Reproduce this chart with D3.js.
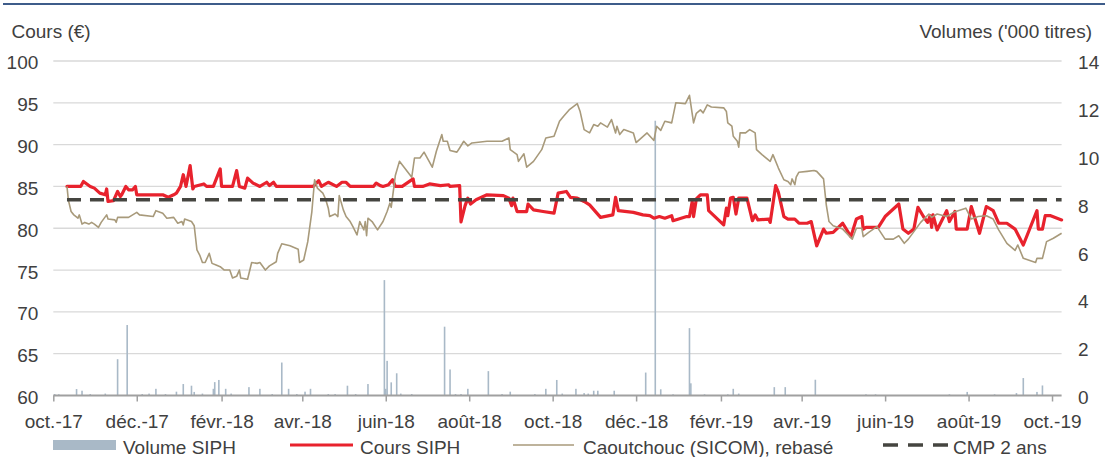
<!DOCTYPE html>
<html>
<head>
<meta charset="utf-8">
<script src="https://cdn.jsdelivr.net/npm/d3@7"></script>
<style>
  body { margin: 0; background: #fff; }
  text { font-family: "Liberation Sans", Arial, sans-serif; }
</style>
</head>
<body>
<script>
// axis ticks
var tickDates = ["2017-10-01", "2017-12-01", "2018-02-01", "2018-04-01", "2018-06-01", "2018-08-01",
  "2018-10-01", "2018-12-01", "2019-02-01", "2019-04-01", "2019-06-01", "2019-08-01", "2019-10-01"];
var tickLabels = ["oct.-17", "déc.-17", "févr.-18", "avr.-18", "juin-18", "août-18",
  "oct.-18", "déc.-18", "févr.-19", "avr.-19", "juin-19", "août-19", "oct.-19"];
var coursTicks = [60, 65, 70, 75, 80, 85, 90, 95, 100];
var volumeTicks = [0, 2, 4, 6, 8, 10, 12, 14];

// Cours SIPH (€)
var coursDates = [
  "2017-10-11","2017-10-21","2017-10-23","2017-10-28","2017-10-31","2017-11-04","2017-11-08","2017-11-09","2017-11-10","2017-11-14","2017-11-17",
  "2017-11-19","2017-11-20","2017-11-23","2017-11-25","2017-11-28","2017-11-30","2017-12-01","2017-12-20","2017-12-24","2017-12-28","2017-12-30",
  "2018-01-02","2018-01-04","2018-01-06","2018-01-09","2018-01-11","2018-01-12","2018-01-19","2018-01-21","2018-01-26","2018-01-31",
  "2018-02-01","2018-02-09","2018-02-12","2018-02-14","2018-02-18","2018-02-20","2018-02-24","2018-03-01","2018-03-06","2018-03-08",
  "2018-03-11","2018-03-13","2018-04-09","2018-04-13","2018-04-15","2018-04-20","2018-04-26","2018-04-30","2018-05-03","2018-05-06",
  "2018-05-23","2018-05-25","2018-05-28","2018-05-30","2018-06-03","2018-06-06","2018-06-08","2018-06-13","2018-06-21","2018-06-22",
  "2018-06-28","2018-07-03","2018-07-11","2018-07-17","2018-07-18","2018-07-25","2018-07-26","2018-07-29","2018-07-31","2018-08-02",
  "2018-08-06","2018-08-14","2018-08-26","2018-08-30","2018-09-01","2018-09-02","2018-09-05","2018-09-12","2018-09-13","2018-09-17",
  "2018-09-24","2018-10-02","2018-10-05","2018-10-11","2018-10-14","2018-10-19","2018-10-24","2018-10-28","2018-11-05","2018-11-14",
  "2018-11-16","2018-11-18","2018-11-29","2018-12-06","2018-12-11","2018-12-14","2018-12-18","2018-12-22","2018-12-27","2018-12-28",
  "2019-01-07","2019-01-09","2019-01-11","2019-01-12","2019-01-14","2019-01-17","2019-01-22","2019-01-23","2019-02-03","2019-02-05",
  "2019-02-06","2019-02-08","2019-02-10","2019-02-12","2019-02-14","2019-02-20","2019-02-24","2019-02-26","2019-02-28","2019-03-08",
  "2019-03-09","2019-03-13","2019-03-15","2019-03-19","2019-03-22","2019-03-27","2019-03-30","2019-04-05","2019-04-08","2019-04-12",
  "2019-04-17","2019-04-19","2019-04-24","2019-05-01","2019-05-07","2019-05-11","2019-05-15","2019-05-16","2019-05-18","2019-05-27",
  "2019-06-01","2019-06-11","2019-06-14","2019-06-18","2019-06-22","2019-06-25","2019-06-29","2019-07-02","2019-07-04","2019-07-05",
  "2019-07-06","2019-07-09","2019-07-16","2019-07-18","2019-07-22","2019-07-23","2019-07-31","2019-08-03","2019-08-09","2019-08-14",
  "2019-08-19","2019-08-23","2019-08-29","2019-09-04","2019-09-10","2019-09-20","2019-09-21","2019-09-24","2019-09-26","2019-09-30",
  "2019-10-08"];
var coursValues = [
  85.0, 85.0, 85.6, 85.0, 84.8, 84.2, 84.0, 84.7, 83.2, 83.3, 84.4,
  83.8, 84.0, 85.0, 84.6, 84.6, 85.0, 84.0, 84.0, 83.7, 84.0, 84.2,
  85.0, 86.4, 85.0, 87.5, 84.7, 85.0, 85.3, 85.0, 85.0, 87.1,
  85.0, 85.0, 86.9, 85.0, 84.8, 86.0, 85.4, 85.0, 85.5, 85.1,
  85.5, 85.0, 85.0, 85.7, 85.0, 85.5, 85.0, 85.5, 85.5, 85.0,
  85.0, 85.4, 85.1, 85.0, 85.2, 85.8, 85.0, 85.0, 85.9, 85.0,
  85.0, 85.3, 85.1, 85.2, 85.0, 85.1, 80.75, 82.7, 83.6, 82.9,
  83.4, 84.0, 83.9, 83.6, 82.7, 83.6, 82.0, 82.0, 82.9, 82.2,
  82.0, 81.8, 84.2, 84.4, 83.7, 83.6, 83.2, 82.8, 81.3, 81.6,
  83.7, 82.1, 81.9, 81.6, 81.5, 81.2, 81.4, 81.2, 81.5, 80.9,
  81.4, 81.4, 83.2, 81.4, 83.5, 84.0, 84.0, 82.1, 80.4, 82.4,
  81.5, 83.6, 83.7, 81.7, 83.6, 83.6, 80.9, 81.6, 81.0, 81.1,
  80.7, 85.1, 84.3, 81.4, 81.1, 81.1, 80.6, 80.6, 80.8, 77.9,
  79.9, 79.4, 79.5, 80.6, 79.0, 81.1, 81.4, 79.9, 80.1, 80.1,
  81.4, 82.9, 79.9, 79.4, 79.9, 82.5, 81.4, 80.7, 81.5, 80.1,
  81.6, 79.8, 82.1, 80.8, 82.0, 79.9, 79.9, 82.6, 79.4, 82.6,
  82.1, 80.6, 80.6, 79.9, 78.0, 82.1, 79.9, 79.9, 81.5, 81.5,
  81.0];

// Caoutchouc (SICOM), rebasé
var caoutchoucDates = [
  "2017-10-11","2017-10-12","2017-10-14","2017-10-16","2017-10-19","2017-10-20","2017-10-22","2017-10-24","2017-10-27","2017-10-29",
  "2017-10-31","2017-11-03","2017-11-05","2017-11-09","2017-11-10","2017-11-15","2017-11-16","2017-11-17","2017-11-25","2017-11-28",
  "2017-12-01","2017-12-03","2017-12-13","2017-12-15","2017-12-20","2017-12-23","2017-12-28","2017-12-31","2018-01-03","2018-01-04",
  "2018-01-05","2018-01-10","2018-01-12","2018-01-14","2018-01-16","2018-01-18","2018-01-20","2018-01-23","2018-01-25","2018-01-28",
  "2018-01-31","2018-02-03","2018-02-07","2018-02-09","2018-02-12","2018-02-14","2018-02-15","2018-02-20","2018-02-23","2018-02-27",
  "2018-03-01","2018-03-05","2018-03-08","2018-03-13","2018-03-14","2018-03-17","2018-03-23","2018-03-29","2018-03-30","2018-04-02",
  "2018-04-05","2018-04-08","2018-04-10","2018-04-12","2018-04-16","2018-04-18","2018-04-20","2018-04-21","2018-04-25","2018-04-27",
  "2018-04-28","2018-05-01","2018-05-03","2018-05-06","2018-05-08","2018-05-11","2018-05-13","2018-05-16","2018-05-17","2018-05-18",
  "2018-05-19","2018-05-22","2018-05-26","2018-05-30","2018-06-02","2018-06-04","2018-06-05","2018-06-08","2018-06-11","2018-06-20",
  "2018-06-22","2018-06-26","2018-06-29","2018-07-02","2018-07-05","2018-07-08","2018-07-12","2018-07-13","2018-07-16","2018-07-18",
  "2018-07-23","2018-07-25","2018-07-28","2018-07-31","2018-08-03","2018-08-14","2018-08-25","2018-08-30","2018-08-31","2018-09-05",
  "2018-09-06","2018-09-10","2018-09-12","2018-09-17","2018-09-23","2018-09-26","2018-10-02","2018-10-06","2018-10-09","2018-10-13",
  "2018-10-19","2018-10-21","2018-10-24","2018-10-28","2018-10-31","2018-11-03","2018-11-05","2018-11-10","2018-11-13","2018-11-16",
  "2018-11-17","2018-11-19","2018-11-22","2018-11-29","2018-12-01","2018-12-09","2018-12-14","2018-12-16","2018-12-19","2018-12-22",
  "2018-12-27","2018-12-30","2019-01-06","2019-01-09","2019-01-12","2019-01-14","2019-01-17","2019-01-19","2019-01-22","2019-01-25",
  "2019-02-03","2019-02-05","2019-02-06","2019-02-09","2019-02-10","2019-02-13","2019-02-14","2019-02-15","2019-02-19","2019-02-22",
  "2019-02-26","2019-02-27","2019-03-03","2019-03-09","2019-03-11","2019-03-15","2019-03-19","2019-03-22","2019-03-24","2019-03-25",
  "2019-03-27","2019-03-28","2019-03-30","2019-04-05","2019-04-10","2019-04-12","2019-04-17","2019-04-19","2019-04-21","2019-04-24",
  "2019-05-01","2019-05-08","2019-05-11","2019-05-15","2019-05-16","2019-05-20","2019-05-26","2019-06-01","2019-06-07","2019-06-11",
  "2019-06-15","2019-06-18","2019-06-27","2019-07-03","2019-07-05","2019-07-09","2019-07-16","2019-07-21","2019-07-30","2019-08-03",
  "2019-08-08","2019-08-14","2019-08-19","2019-08-23","2019-08-29","2019-09-04","2019-09-06","2019-09-10","2019-09-19","2019-09-20",
  "2019-09-24","2019-09-27","2019-10-02","2019-10-08"];
var caoutchoucValues = [
  85.0, 83.4, 82.0, 81.6, 81.2, 81.6, 80.5, 80.7, 80.5, 80.7,
  80.5, 80.1, 80.7, 81.6, 81.1, 81.0, 80.7, 81.3, 81.3, 81.6,
  81.9, 81.6, 81.4, 82.1, 81.8, 81.2, 81.3, 80.6, 80.8, 80.4,
  81.1, 80.8, 80.3, 77.4, 76.8, 75.9, 75.9, 77.0, 75.8, 75.6,
  75.4, 75.0, 75.0, 74.05, 74.25, 75.0, 74.05, 73.9, 75.9, 75.8,
  75.9, 75.0, 75.5, 76.0, 77.0, 78.15, 77.9, 77.5, 75.9, 76.2,
  78.4, 82.0, 85.8, 84.8, 84.2, 83.5, 82.4, 81.4, 81.7, 81.4,
  83.9, 82.2, 81.4, 80.8, 80.2, 79.2, 80.8, 79.8, 80.8, 79.1,
  81.2, 80.8, 79.8, 80.8, 82.0, 83.0, 82.5, 86.3, 88.0, 86.1,
  88.4, 88.4, 89.1, 88.2, 87.3, 89.2, 91.2, 90.4, 90.4, 89.3,
  89.1, 89.6, 90.4, 89.85, 90.2, 90.4, 90.4, 90.8, 89.4, 88.8,
  88.0, 88.9, 87.3, 88.0, 89.4, 90.8, 91.0, 92.8, 93.4, 94.15,
  94.9, 94.0, 91.8, 91.4, 92.4, 92.2, 92.6, 92.1, 93.0, 91.4,
  92.2, 91.2, 91.8, 91.4, 90.25, 91.4, 90.5, 92.2, 91.7, 92.8,
  92.6, 95.0, 94.9, 95.9, 92.6, 93.75, 94.15, 93.8, 94.75, 94.5,
  94.4, 93.95, 92.6, 92.2, 91.0, 90.4, 89.7, 91.4, 91.4, 91.8,
  91.4, 89.4, 88.8, 88.0, 88.8, 87.2, 85.8, 85.6, 85.2, 85.9,
  85.2, 86.1, 86.7, 86.8, 86.9, 86.8, 85.9, 82.8, 80.8, 80.3,
  79.9, 78.7, 80.0, 80.0, 79.0, 79.5, 80.2, 78.7, 78.7, 79.1,
  78.2, 78.7, 80.7, 81.7, 81.3, 81.7, 81.4, 81.9, 82.4, 81.1,
  81.4, 81.5, 81.1, 79.8, 78.2, 77.35, 78.0, 76.4, 75.9, 76.4,
  76.4, 78.4, 78.8, 79.4];

// CMP 2 ans (€)
var cmpDates = ["2017-10-11", "2019-10-08"];
var cmpValues = [83.4, 83.4];

// Volume SIPH ('000 titres)
var volumeDates = [
  "2017-10-02","2017-10-05","2017-10-18","2017-10-22","2017-10-28","2017-11-08","2017-11-17","2017-11-24","2017-12-05","2017-12-10",
  "2017-12-15","2017-12-22","2017-12-30","2018-01-04","2018-01-10","2018-01-12","2018-01-18","2018-01-26","2018-01-27","2018-01-30",
  "2018-02-04","2018-02-08","2018-02-21","2018-03-01","2018-03-10","2018-03-17","2018-03-22","2018-03-28","2018-04-03","2018-04-07",
  "2018-04-20","2018-04-25","2018-05-04","2018-05-10","2018-05-19","2018-05-31","2018-06-01","2018-06-02","2018-06-05","2018-06-09",
  "2018-06-12","2018-06-20","2018-07-14","2018-07-18","2018-07-22","2018-07-26","2018-07-31","2018-08-15","2018-08-25","2018-08-31",
  "2018-09-18","2018-09-26","2018-10-04","2018-10-08","2018-10-18","2018-10-24","2018-10-27","2018-10-31","2018-11-03","2018-11-15",
  "2018-12-08","2018-12-15","2018-12-19","2018-12-28","2019-01-09","2019-01-10","2019-01-20","2019-02-06","2019-02-10","2019-02-14",
  "2019-03-12","2019-03-20","2019-04-11","2019-05-18","2019-05-25","2019-07-18","2019-07-31","2019-08-20","2019-09-05","2019-09-10",
  "2019-09-20","2019-09-24"];
var volumeValues = [
  0.06, 0.05, 0.27, 0.2, 0.06, 0.08, 1.52, 2.95, 0.06, 0.08,
  0.28, 0.06, 0.16, 0.48, 0.41, 0.15, 0.08, 0.28, 0.56, 0.65,
  0.28, 0.08, 0.35, 0.28, 0.06, 1.38, 0.28, 0.06, 0.16, 0.28,
  0.06, 0.06, 0.41, 0.06, 0.48, 4.83, 0.28, 1.45, 0.55, 0.93,
  0.08, 0.06, 2.88, 1.09, 0.06, 0.06, 0.28, 1.02, 0.06, 0.16,
  0.06, 0.28, 0.65, 0.08, 0.28, 0.1, 0.08, 0.2, 0.2, 0.2,
  0.96, 11.5, 0.26, 0.05, 2.82, 0.51, 0.05, 0.05, 0.28, 0.08,
  0.35, 0.35, 0.66, 0.05, 0.05, 0.05, 0.15, 0.05, 0.1, 0.73,
  0.15, 0.42];

var parse = d3.timeParse("%Y-%m-%d");

var svg = d3.select("body")
    .append("svg")
    .attr("width", 1105)
    .attr("height", 457);

svg.append("rect").attr("width", 1105).attr("height", 457).attr("fill", "#fff");

// blue rule under the (cropped) title
svg.append("line")
    .attr("x1", 3).attr("x2", 1105).attr("y1", 4).attr("y2", 4)
    .attr("stroke", "#3e5c8a").attr("stroke-width", 2);

var plotLeft = 53.3, plotRight = 1061.6, plotTop = 61, plotBottom = 395.5;

var x = d3.scaleTime()
    .domain([parse("2017-10-01"), parse("2019-10-08")])
    .range([plotLeft, plotRight]);
var yL = d3.scaleLinear().domain([60, 100]).range([plotBottom, plotTop]);
var yR = d3.scaleLinear().domain([0, 14]).range([plotBottom, plotTop]);

var textCol = "#404040";
var fs = "19px";

// gridlines
svg.append("g")
  .selectAll("line")
  .data(coursTicks.slice(1))
  .enter().append("line")
    .attr("x1", plotLeft).attr("x2", plotRight)
    .attr("y1", d => yL(d)).attr("y2", d => yL(d))
    .attr("stroke", "#d9d9d9").attr("stroke-width", 1.3);

// volume bars
svg.append("g")
  .selectAll("rect")
  .data(volumeDates.map((d, i) => ({ date: parse(d), v: volumeValues[i] })))
  .enter().append("rect")
    .attr("x", d => x(d.date) - 0.8)
    .attr("width", 1.6)
    .attr("y", d => yR(d.v))
    .attr("height", d => plotBottom - yR(d.v))
    .attr("fill", "#a9b9c7");

// x axis
var xAxis = svg.append("g")
    .attr("transform", "translate(0," + plotBottom + ")")
    .call(d3.axisBottom(x)
      .tickValues(tickDates.map(parse))
      .tickFormat((d, i) => tickLabels[i])
      .tickSize(6)
      .tickPadding(13));
xAxis.select(".domain").attr("stroke", "#a0a0a0").attr("stroke-width", 2)
    .attr("d", "M" + plotLeft + ",0H" + plotRight);
xAxis.selectAll(".tick line").attr("stroke", "#a0a0a0").attr("stroke-width", 1.5);
xAxis.selectAll("text").attr("fill", textCol).style("font-size", fs)
    .style("font-family", '"Liberation Sans", Arial, sans-serif');

// left axis labels
var yAxisL = svg.append("g")
    .attr("transform", "translate(" + plotLeft + ",0)")
    .call(d3.axisLeft(yL).tickValues(coursTicks).tickSize(0).tickPadding(15));
yAxisL.select(".domain").remove();
yAxisL.selectAll("text").attr("fill", textCol).attr("dy", "0.42em").style("font-size", fs)
    .style("font-family", '"Liberation Sans", Arial, sans-serif');

// right axis labels
var yAxisR = svg.append("g")
    .attr("transform", "translate(" + plotRight + ",0)")
    .call(d3.axisRight(yR).tickValues(volumeTicks).tickSize(0).tickPadding(16.5));
yAxisR.select(".domain").remove();
yAxisR.selectAll("text").attr("fill", textCol).attr("dy", "0.42em").style("font-size", fs)
    .style("font-family", '"Liberation Sans", Arial, sans-serif');

// axis titles
svg.append("text").attr("x", 11.5).attr("y", 38).attr("fill", textCol).style("font-size", fs)
    .text("Cours (€)");
svg.append("text").attr("x", 1092).attr("y", 38).attr("text-anchor", "end").attr("fill", textCol)
    .style("font-size", fs).text("Volumes ('000 titres)");

function series(dates, values) {
  return dates.map((d, i) => ({ date: parse(d), v: values[i] }));
}
var line = d3.line().x(d => x(d.date)).y(d => yL(d.v));

svg.append("path")
    .datum(series(coursDates, coursValues))
    .attr("d", line)
    .attr("fill", "none").attr("stroke", "#e8222d").attr("stroke-width", 3.2)
    .attr("stroke-linejoin", "round").attr("stroke-linecap", "round");

svg.append("path")
    .datum(series(caoutchoucDates, caoutchoucValues))
    .attr("d", line)
    .attr("fill", "none").attr("stroke", "#a89a7b").attr("stroke-width", 1.6)
    .attr("stroke-linejoin", "round");

svg.append("path")
    .datum(series(cmpDates, cmpValues))
    .attr("d", line)
    .attr("fill", "none").attr("stroke", "#454540").attr("stroke-width", 3.5)
    .attr("stroke-dasharray", "14,9");

// legend
var lg = svg.append("g");
var ly = 445;
lg.append("rect").attr("x", 53).attr("y", 440).attr("width", 63).attr("height", 10).attr("fill", "#a9b9c7");
lg.append("line").attr("x1", 290).attr("x2", 353).attr("y1", ly).attr("y2", ly)
    .attr("stroke", "#e8222d").attr("stroke-width", 3.2);
lg.append("line").attr("x1", 513).attr("x2", 574).attr("y1", ly).attr("y2", ly)
    .attr("stroke", "#a89a7b").attr("stroke-width", 1.6);
lg.append("line").attr("x1", 883).attr("x2", 948).attr("y1", ly).attr("y2", ly)
    .attr("stroke", "#454540").attr("stroke-width", 3.5).attr("stroke-dasharray", "15,10");

var legendItems = [
  { x: 123, label: "Volume SIPH" },
  { x: 360, label: "Cours SIPH" },
  { x: 583, label: "Caoutchouc (SICOM), rebasé" },
  { x: 953, label: "CMP 2 ans" }
];
lg.selectAll("text.leg")
  .data(legendItems)
  .enter().append("text")
    .attr("class", "leg")
    .attr("x", d => d.x).attr("y", 453.5)
    .attr("fill", textCol).style("font-size", fs)
    .text(d => d.label);
</script>
</body>
</html>
